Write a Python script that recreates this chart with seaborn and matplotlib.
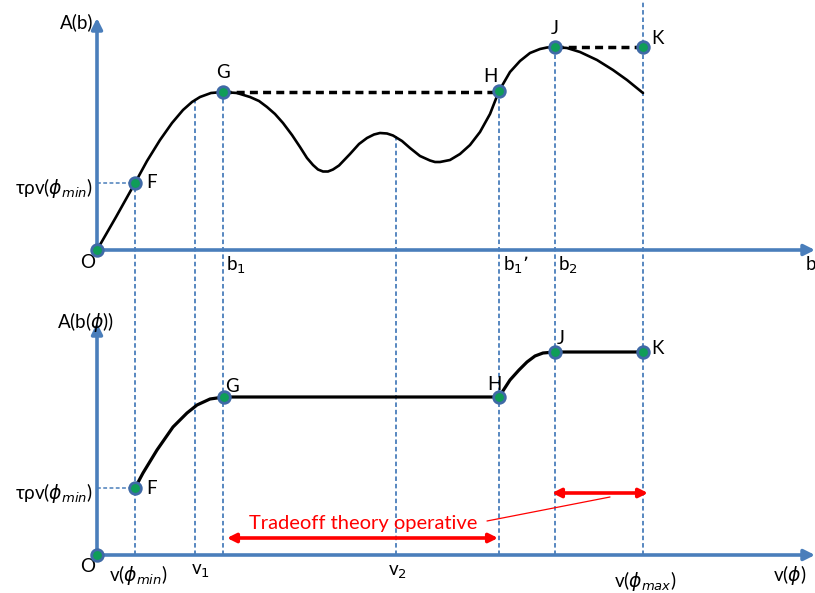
import numpy as np
import pandas as pd
import matplotlib
matplotlib.use("Agg")
import matplotlib.pyplot as plt
import seaborn as sns

# Curve in the upper panel, A(b) against b
top_curve_x = [0.0, 1.9, 3.8, 5.0, 6.3, 7.5, 8.6, 9.5, 10.3, 11.4, 12.6, 14.0, 15.3, 16.2, 17.0,
               17.8, 18.6, 19.5, 20.3, 21.0, 21.6, 22.1, 22.6, 23.1, 23.6, 24.2, 25.3, 26.2, 27.0,
               27.7, 28.3, 29.0, 29.6, 30.5, 31.3, 32.3, 33.3, 33.8, 34.3, 35.3, 36.3, 37.3, 38.3,
               39.3, 40.2, 41.3, 42.3, 43.3, 44.3, 45.0, 45.8, 47.0, 48.3, 50.0, 51.6, 53.0, 54.6]
top_curve_y = [0.0, 3.3, 6.7, 8.9, 11.0, 12.7, 14.0, 14.8, 15.3, 15.7, 15.8, 15.7, 15.3, 14.9, 14.3,
               13.6, 12.7, 11.5, 10.3, 9.2, 8.5, 8.05, 7.85, 7.85, 8.05, 8.45, 9.6, 10.6, 11.2,
               11.55, 11.7, 11.65, 11.45, 10.9, 10.2, 9.4, 8.95, 8.8, 8.8, 9.0, 9.6, 10.5, 11.8,
               13.6, 15.9, 17.8, 18.9, 19.7, 20.1, 20.25, 20.3, 20.2, 19.8, 19.0, 18.0, 17.0, 15.7]

# Curve in the lower panel, A(b(phi)) against v(phi)
bottom_curve_x = [3.8, 4.6, 6.0, 7.6, 9.0, 10.0, 11.3, 12.7, 40.2, 41.3, 42.2, 43.0, 43.8, 44.6, 45.8, 54.6]
bottom_curve_y = [6.7, 8.2, 10.5, 12.8, 14.2, 15.0, 15.6, 15.8, 15.8, 17.5, 18.5, 19.3, 19.9, 20.2, 20.3, 20.3]

point_names = ["O", "F", "G", "H", "J", "K"]
top_point_x = [0.0, 3.8, 12.6, 40.2, 45.8, 54.6]
top_point_y = [0.0, 6.7, 15.8, 15.9, 20.3, 20.3]
bottom_point_x = [0.0, 3.8, 12.7, 40.2, 45.8, 54.6]
bottom_point_y = [0.0, 6.7, 15.8, 15.8, 20.3, 20.3]

# dashed guides: x position and where they start in the upper panel
guide_x = [3.8, 9.8, 12.6, 29.9, 40.2, 45.8, 54.6]
guide_top = [6.7, 15.2, 15.8, 11.4, 15.9, 20.3, 25.0]

# double arrows in the lower panel
arrow_start = [13.0, 45.5]
arrow_end = [40.1, 55.1]
arrow_y = [1.7, 6.2]

TOP_BASE = 30.5   # upper panel origin, in figure units
AXIS_BLUE = "#4a7ebb"

sns.set_theme(style="white")
plt.rcParams["font.family"] = ["Lato", "DejaVu Sans"]
plt.rcParams["mathtext.fontset"] = "dejavusans"
plt.rcParams["text.color"] = "black"

fig = plt.figure(figsize=(8.15, 5.93), dpi=100)
ax = fig.add_axes([0, 0, 1, 1])
ax.set_xlim(-9.7, 71.8)
ax.set_ylim(-3.8, 55.5)
ax.axis("off")

# vertical dotted guides running down to the lower axis
for gx, gt in zip(guide_x, guide_top):
    ax.plot([gx, gx], [0, TOP_BASE + gt], color=AXIS_BLUE, lw=1.3,
            linestyle=(0, (2.5, 1.6)), zorder=1)
# horizontal guides at F
for base in (0, TOP_BASE):
    ax.plot([0, top_point_x[1]], [base + top_point_y[1]] * 2, color=AXIS_BLUE, lw=1.1,
            linestyle=(0, (2.5, 1.6)), zorder=1)

# axes with arrows
arrow_kw = dict(arrowstyle="-|>", lw=2.6, color=AXIS_BLUE, mutation_scale=16,
                shrinkA=0, shrinkB=0)
ax.annotate("", xy=(0, TOP_BASE + 23.2), xytext=(0, TOP_BASE), arrowprops=arrow_kw, zorder=2)
ax.annotate("", xy=(71.8, TOP_BASE), xytext=(0, TOP_BASE), arrowprops=arrow_kw, zorder=2)
ax.annotate("", xy=(0, 23.2), xytext=(0, 0), arrowprops=arrow_kw, zorder=2)
ax.annotate("", xy=(71.8, 0), xytext=(0, 0), arrowprops=arrow_kw, zorder=2)

# curves
top_df = pd.DataFrame({"x": top_curve_x, "y": np.array(top_curve_y) + TOP_BASE})
sns.lineplot(data=top_df, x="x", y="y", ax=ax, color="black", lw=1.9, sort=False,
             estimator=None, zorder=3)
bot_df = pd.DataFrame({"x": bottom_curve_x, "y": bottom_curve_y})
sns.lineplot(data=bot_df, x="x", y="y", ax=ax, color="black", lw=2.3, sort=False,
             estimator=None, zorder=3)

# black dashed plateaus on top
dash = (0, (2.3, 1.5))
ax.plot([top_point_x[2], top_point_x[3]], [TOP_BASE + top_point_y[2]] * 2, color="black",
        lw=2.5, linestyle=dash, zorder=3)
ax.plot([top_point_x[4], top_point_x[5]], [TOP_BASE + top_point_y[4]] * 2, color="black",
        lw=2.5, linestyle=dash, zorder=3)

# points
pts = pd.DataFrame({
    "x": top_point_x + bottom_point_x,
    "y": [v + TOP_BASE for v in top_point_y] + bottom_point_y,
})
sns.scatterplot(data=pts, x="x", y="y", ax=ax, s=70, color="#0f9d58",
                edgecolor="#3f6aa6", linewidth=2.0, zorder=5)

# point labels
fs = 13.5
top_lab_off = {"O": (-0.9, -1.3, "center"), "F": (1.1, 0, "left"), "G": (0, 1.9, "center"),
               "H": (-0.9, 1.4, "center"), "J": (0, 1.9, "center"), "K": (0.8, 0.9, "left")}
bot_lab_off = {"O": (-0.9, -1.2, "center"), "F": (1.1, 0, "left"), "G": (0.1, 1.1, "left"),
               "H": (-0.5, 1.2, "center"), "J": (0.2, 1.3, "left"), "K": (0.8, 0.3, "left")}
for name, x, y in zip(point_names, top_point_x, top_point_y):
    dx, dy, ha = top_lab_off[name]
    ax.text(x + dx, TOP_BASE + y + dy, name, fontsize=fs, ha=ha, va="center")
for name, x, y in zip(point_names, bottom_point_x, bottom_point_y):
    dx, dy, ha = bot_lab_off[name]
    ax.text(x + dx, y + dy, name, fontsize=fs, ha=ha, va="center")

# axis labels
ax.text(-0.4, TOP_BASE + 22.8, "A(b)", fontsize=fs, ha="right", va="center")
ax.text(-0.4, TOP_BASE + 6.2, r"τρv($\phi_{min}$)", fontsize=fs, ha="right", va="center")
ax.text(-1.2, 23.3, r"A(b($\phi$))", fontsize=fs, ha="center", va="center")
ax.text(-0.4, 6.2, r"τρv($\phi_{min}$)", fontsize=fs, ha="right", va="center")

top_ticks = [(12.9, r"b$_1$"), (40.6, r"b$_1$’"), (46.1, r"b$_2$"), (70.9, "b")]
for x, lab in top_ticks:
    ax.text(x, TOP_BASE - 1.5, lab, fontsize=fs, ha="left", va="center")
bottom_ticks = [(4.1, r"v($\phi_{min}$)", -2.0), (10.3, r"v$_1$", -1.6),
                (30.0, r"v$_2$", -1.7), (54.8, r"v($\phi_{max}$)", -2.6),
                (69.3, r"v($\phi$)", -2.0)]
for x, lab, dy in bottom_ticks:
    ax.text(x, dy, lab, fontsize=fs, ha="center", va="center")

# red annotation
red_kw = dict(arrowstyle="<|-|>", lw=2.6, color="#ff0000", mutation_scale=13,
              shrinkA=0, shrinkB=0)
for x0, x1, y in zip(arrow_start, arrow_end, arrow_y):
    ax.annotate("", xy=(x1, y), xytext=(x0, y), arrowprops=red_kw, zorder=4)
ax.plot([39.0, 51.3], [3.4, 5.8], color="#ff0000", lw=0.9, zorder=4)
ax.text(26.6, 3.2, "Tradeoff theory operative", fontsize=14.5, color="#ff0000",
        ha="center", va="center", zorder=4)

fig.savefig("out.png", dpi=100)
